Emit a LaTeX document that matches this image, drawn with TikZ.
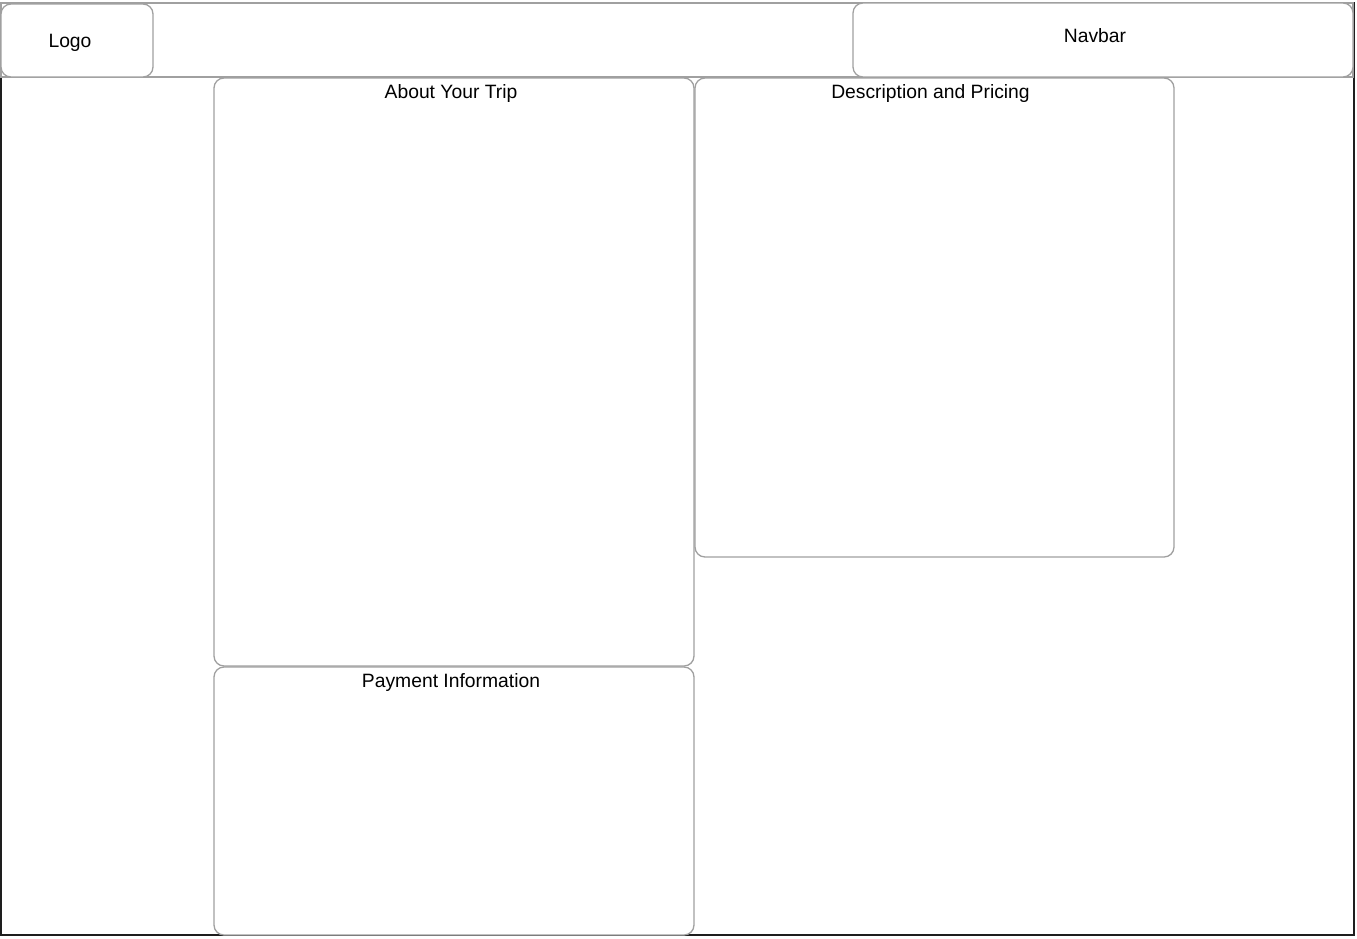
\documentclass[tikz,border=0pt]{standalone}
\usepackage{fontspec}
\setmainfont{Liberation Sans}
\usetikzlibrary{positioning}
\definecolor{boxline}{HTML}{A0A0A0}
\definecolor{frameline}{HTML}{1E1E1E}

\begin{document}
\begin{tikzpicture}[
    x=1pt, y=-1pt,
    panel/.style={draw=boxline, line width=1.3pt, rounded corners=10pt, fill=white, inner sep=0pt, outer sep=0pt},
    title/.style={anchor=base, font=\fontsize{19.3}{23}\selectfont}
    ]

    \useasboundingbox (0,0) rectangle (1357,938);

    \node[draw=frameline, line width=2pt, inner sep=0pt, outer sep=0pt, minimum width=1353pt, minimum height=932pt, anchor=north west] (frame) at (1,3) {};
    \node[panel, sharp corners, minimum width=1352pt, minimum height=74pt, anchor=north west] (header) at (1,3) {};

    \node[panel, minimum width=152pt, minimum height=73pt, anchor=north west,
        label={[title, xshift=-7pt, yshift=-2pt]center:Logo}] (logo) at (1,4) {};
    \node[panel, minimum width=500pt, minimum height=74pt, anchor=north east,
        label={[title, xshift=-8pt, yshift=4pt]center:Navbar}] (navbar) at (1353,3) {};

    \node[panel, minimum width=480pt, minimum height=588pt, anchor=north west,
        label={[title, xshift=-3pt, yshift=-20pt]north:About Your Trip}] (trip) at (214,78) {};
    \node[panel, below=1pt of trip, minimum width=480pt, minimum height=268pt,
        label={[title, xshift=-3pt, yshift=-20pt]north:Payment Information}] (pay) {};
    \node[panel, right=1pt of trip.north east, anchor=north west, minimum width=479pt, minimum height=479pt,
        label={[title, xshift=-4pt, yshift=-20pt]north:Description and Pricing}] (desc) {};

  \end{tikzpicture}
\end{document}
